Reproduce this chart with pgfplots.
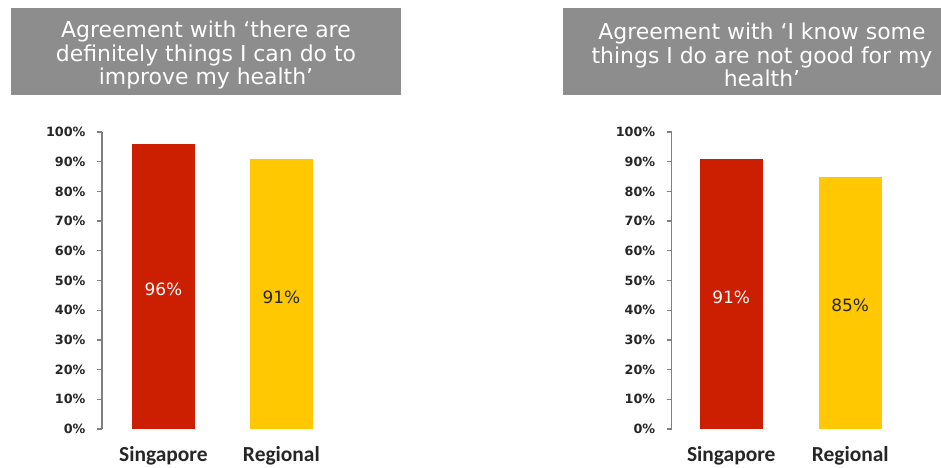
\documentclass[border=0pt]{standalone}
\usepackage{pgfplots}
\pgfplotsset{compat=1.18}
\usepackage{fontspec}
\setmainfont{DejaVu Sans}
\newfontfamily\carlito{Carlito}
\definecolor{sgred}{RGB}{204,30,0}
\definecolor{regyel}{RGB}{255,200,0}
\definecolor{titlegray}{RGB}{141,141,141}
\definecolor{axgray}{RGB}{128,128,128}
\pgfplotsset{
  panel/.style={
    scale only axis, height=297bp,
    ymin=0, ymax=100, ytick={0,10,...,100},
    axis y line*=left, axis x line*=bottom,
    x axis line style={draw=none},
    y axis line style={draw=axgray, line width=1.3bp, -},
    xtick={0,1}, xticklabels={Singapore,Regional},
    xtick style={draw=none},
    ytick style={draw=axgray, line width=1.3bp},
    tick align=outside, major tick length=5bp,
    yticklabel={\pgfmathprintnumber{\tick}\%},
    /pgf/number format/assume math mode=true,
    yticklabel style={font=\bfseries\fontsize{12.8}{14}\selectfont, text=black!85, xshift=-8bp},
    xticklabel style={font=\carlito\bfseries\fontsize{21.5}{24}\selectfont, text=black!85, yshift=-9bp},
    clip=false,
  },
  valbar/.style={ybar, bar width=63bp, draw=none,
    nodes near coords={\pgfmathprintnumber{\pgfplotspointmeta}\%},
    visualization depends on={rawy \as \rawy},
    every node near coord/.append style={anchor=center,
      font=\fontsize{17}{19}\selectfont,
      shift={(axis direction cs:0,-\rawy/2)}, yshift=-3bp}},
}
\begin{document}
\begin{tikzpicture}[x=1bp,y=1bp]
\useasboundingbox (0,0) rectangle (941,468);
\fill[titlegray] (11,373) rectangle (401,460);
\node[text=white, font=\fontsize{22}{23.5}\selectfont, align=center] at (206,413)
  {Agreement with ‘there are\\definitely things I can do to\\improve my health’};
\fill[titlegray] (563,373) rectangle (941,460);
\node[text=white, font=\fontsize{22}{23.5}\selectfont, align=center] at (762,413)
  {Agreement with ‘I know some\\things I do are not good for my\\health’};

\begin{axis}[panel, at={(102bp,39bp)}, anchor=south west,
  xmin=-0.52, xmax=1.5, width=238.4bp]
\addplot[valbar, fill=sgred, every node near coord/.append style={text=white}] coordinates {(0,96)};
\addplot[valbar, fill=regyel, every node near coord/.append style={text=black!85}] coordinates {(1,91)};
\end{axis}

\begin{axis}[panel, at={(671.7bp,39bp)}, anchor=south west,
  xmin=-0.5, xmax=1.5, width=238bp]
\addplot[valbar, fill=sgred, every node near coord/.append style={text=white}] coordinates {(0,91)};
\addplot[valbar, fill=regyel, every node near coord/.append style={text=black!85}] coordinates {(1,85)};
\end{axis}
\end{tikzpicture}
\end{document}
